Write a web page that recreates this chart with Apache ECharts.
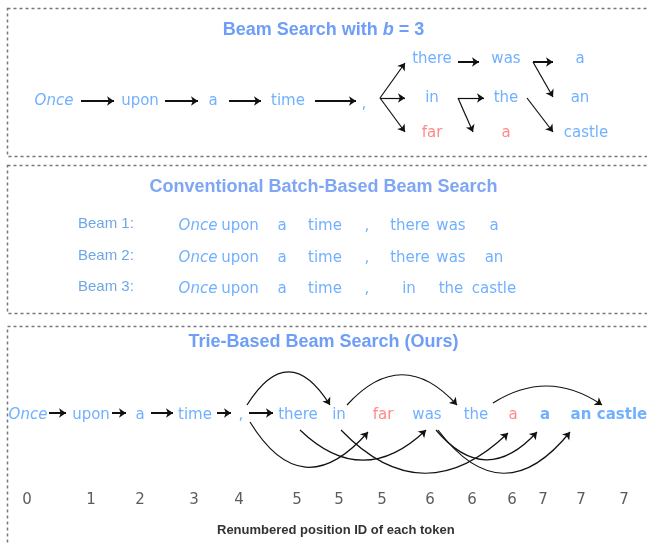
<!DOCTYPE html>
<html>
<head>
<meta charset="utf-8">
<script src="https://cdn.jsdelivr.net/npm/echarts@6/dist/echarts.min.js"></script>
<style>
html, body { margin: 0; padding: 0; background: #fff; }
#main { width: 647px; height: 544px; }
</style>
</head>
<body>
<div id="main"></div>
<script>
var dom = document.getElementById("main");
var myChart = echarts.init(dom);

// --- panel 1 : beam search with b = 3
var beamTokens = ['Once','upon','a','time',',','there','in','far','was','the','a','a','an','castle'];
var beamX = [54,140,213,288,364,432,432,432,506,506,506,580,580,586];
var beamY = [101,101,101,101,104,59,98,133,59,98,133,59,98,133];
var beamRed = [false,false,false,false,false,false,false,true,false,false,true,false,false,false];
var beamArrows = [
    [[81,101],[114,101]], [[165,101],[198,101]], [[229,101],[261,101]], [[315,101],[356,101]],
    [[380,98],[405,63]], [[380,98],[405,98]], [[380,98],[405,132]],
    [[458,62],[479,62]], [[533,62],[553,62]], [[533,62],[553,97]],
    [[458,98],[484,98]], [[458,98],[473,132]], [[527,98],[553,132]]
];
var beamArrowBold = [true,true,true,true,false,false,false,true,true,false,false,false,false];

// --- panel 2 : conventional batch-based beam search
var beamLabels = ['Beam 1:','Beam 2:','Beam 3:'];
var beamRows = [
    ['Once','upon','a','time',',','there','was','a'],
    ['Once','upon','a','time',',','there','was','an'],
    ['Once','upon','a','time',',','in','the','castle']
];
var batchX = [
    [198,240,282,325,367,410,451,494],
    [198,240,282,325,367,410,451,494],
    [198,240,282,325,367,409,451,494]
];
var batchY = [226,258,289];

// --- panel 3 : trie-based beam search
var trieTokens = ['Once','upon','a','time',',','there','in','far','was','the','a','a','an','castle'];
var trieX = [28,91,140,195,241,298,339,383,427,476,513,545,581,622];
var trieRed = [false,false,false,false,false,false,false,true,false,false,true,false,false,false];
var trieBold = [false,false,false,false,false,false,false,false,false,false,false,true,true,true];
var positionIds = [0,1,2,3,4,5,5,5,6,6,6,7,7,7];
var idX = [27,91,140,194,239,297,339,382,430,472,512,543,581,624];
var trieRowY = 415, idRowY = 500;
var trieStraight = [
    [[49,413],[66,413]], [[112,413],[126,413]], [[151,413],[173,413]],
    [[217,413],[231,413]], [[249,413],[273,413]]
];
var trieArcs = [
    [[247,405],[330,405]], [[347,405],[457,405]], [[493,403],[602,405]],
    [[250,422],[368,432]], [[300,430],[426,430]], [[341,430],[508,433]],
    [[436,430],[537,432]], [[438,430],[570,432]]
];
var trieCurve = [0.8,0.55,0.33,-0.68,-0.48,-0.5,-0.57,-0.64];

var BLUE = '#4d9cff', RED = '#ff6b6b', TOKEN_FONT = 'DejaVu Sans';

function tokenItem(name, x, y, red, bold, italic) {
    return {
        name: name,
        value: [x, y],
        label: {
            color: red ? RED : BLUE,
            fontWeight: bold ? 'bold' : 'normal',
            fontStyle: italic ? 'italic' : 'normal'
        }
    };
}

var textData = [];
beamTokens.forEach(function (t, i) {
    textData.push(tokenItem(t, beamX[i], beamY[i], beamRed[i], false, t === 'Once'));
});
beamRows.forEach(function (row, r) {
    row.forEach(function (t, i) {
        textData.push(tokenItem(t, batchX[r][i], batchY[r], false, false, t === 'Once'));
    });
});
trieTokens.forEach(function (t, i) {
    textData.push(tokenItem(t, trieX[i], trieRowY, trieRed[i], trieBold[i], t === 'Once'));
});

var labelData = beamLabels.map(function (t, r) {
    return { name: t, value: [78, batchY[r] - 2] };
});
var idData = positionIds.map(function (p, i) {
    return { name: String(p), value: [idX[i], idRowY] };
});

var arrowData = [];
beamArrows.forEach(function (c, i) {
    arrowData.push({ coords: c, lineStyle: { width: beamArrowBold[i] ? 2 : 1.2 } });
});
trieStraight.forEach(function (c) {
    arrowData.push({ coords: c, lineStyle: { width: 2 } });
});
trieArcs.forEach(function (c, i) {
    arrowData.push({ coords: c, lineStyle: { width: 1.2, curveness: trieCurve[i] } });
});

function box(top, height) {
    return {
        type: 'rect',
        shape: { x: 7.5, y: top + 0.5, width: 660, height: height },
        style: { fill: 'none', stroke: '#777', lineWidth: 1.5, lineDash: [3, 3] },
        silent: true
    };
}

option = {
    animation: false,
    backgroundColor: '#fff',
    title: [
        {
            text: 'Beam Search with {i|b} = 3',
            left: 'center', top: 16,
            textStyle: {
                color: '#6e9ef7', fontSize: 18, fontWeight: 'bold', fontFamily: 'Liberation Sans',
                rich: { i: { color: '#6e9ef7', fontSize: 18, fontWeight: 'bold', fontStyle: 'italic', fontFamily: 'Liberation Sans' } }
            }
        },
        {
            text: 'Conventional Batch-Based Beam Search',
            left: 'center', top: 173,
            textStyle: { color: '#7ea6f5', fontSize: 18, fontWeight: 'bold', fontFamily: 'Liberation Sans' }
        },
        {
            text: 'Trie-Based Beam Search (Ours)',
            left: 'center', top: 328,
            textStyle: { color: '#6e9ef7', fontSize: 18, fontWeight: 'bold', fontFamily: 'Liberation Sans' }
        },
        {
            text: 'Renumbered position ID of each token',
            left: 212, top: 519,
            textStyle: { color: '#333', fontSize: 13, fontWeight: 'bold', fontFamily: 'Liberation Sans' }
        }
    ],
    graphic: [box(8, 148), box(165, 148), box(326, 240)],
    grid: { left: 0, right: 0, top: 0, bottom: 0 },
    xAxis: { type: 'value', min: 0, max: 647, show: false },
    yAxis: { type: 'value', min: 0, max: 544, inverse: true, show: false },
    series: [
        {
            type: 'lines',
            coordinateSystem: 'cartesian2d',
            symbol: ['none', 'arrow'],
            symbolSize: 7,
            lineStyle: { color: '#111', width: 1.2, opacity: 1 },
            silent: true,
            z: 2,
            data: arrowData
        },
        {
            type: 'scatter',
            symbolSize: 0,
            silent: true,
            z: 3,
            label: {
                show: true, position: 'inside', formatter: '{b}',
                fontSize: 15, fontFamily: TOKEN_FONT, color: BLUE
            },
            data: textData
        },
        {
            type: 'scatter',
            symbolSize: 0,
            silent: true,
            label: {
                show: true, position: 'right', distance: 0, formatter: '{b}',
                fontSize: 15, fontFamily: 'Liberation Sans', color: '#4a90e2'
            },
            data: labelData
        },
        {
            type: 'scatter',
            symbolSize: 0,
            silent: true,
            label: {
                show: true, position: 'inside', formatter: '{b}',
                fontSize: 15, fontFamily: 'DejaVu Sans', color: '#333'
            },
            data: idData
        }
    ]
};
if (option && typeof option === "object") {
    myChart.setOption(option, true);
}
</script>
</body>
</html>
